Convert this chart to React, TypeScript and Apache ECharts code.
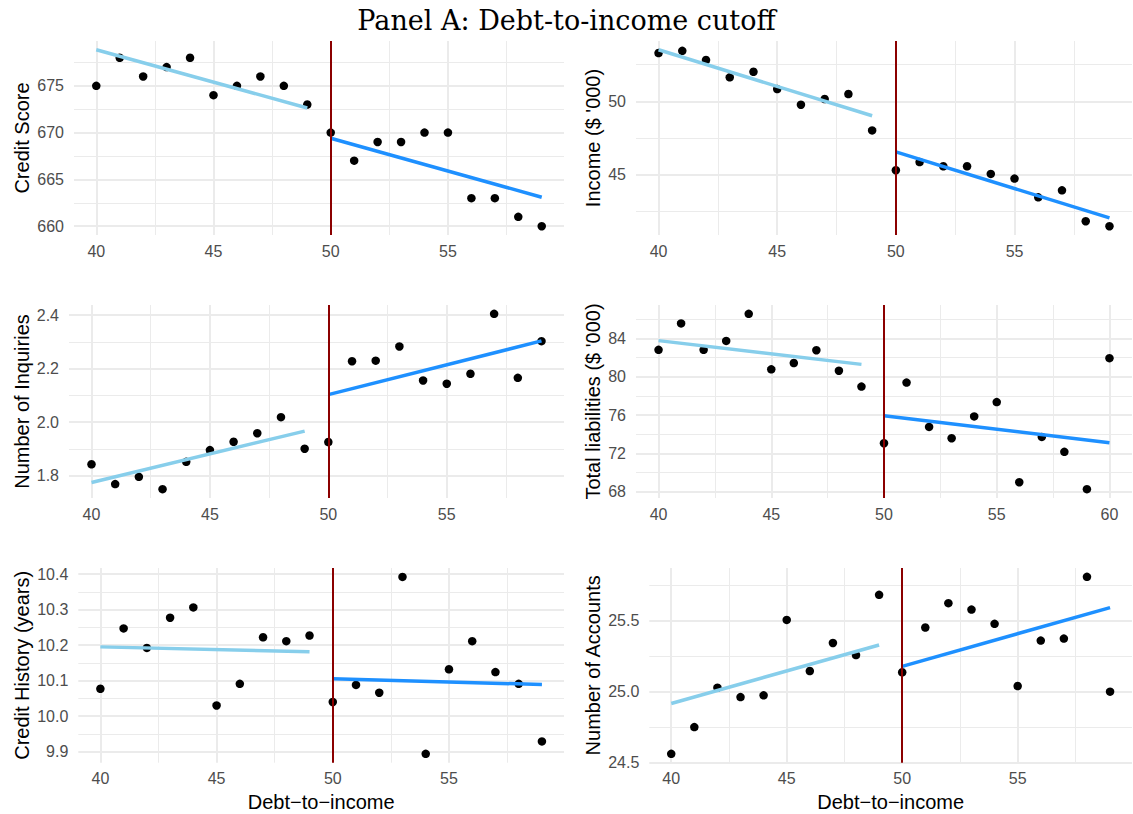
import React, { useEffect, useRef } from "react";
import * as echarts from "echarts";

// ---------- data ----------
const dti = [40, 41, 42, 43, 44, 45, 46, 47, 48, 49, 50, 51, 52, 53, 54, 55, 56, 57, 58, 59];
const dtiWide = [40, 41, 42, 43, 44, 45, 46, 47, 48, 49, 50, 51, 52, 53, 54, 55, 56, 57, 58, 59, 60];

const creditScore = [675, 678, 676, 677, 678, 674, 675, 676, 675, 673, 670, 667, 669, 669, 670, 670, 663, 663, 661, 660];
const income = [53.3, 53.45, 52.82, 51.64, 52.02, 50.84, 49.77, 50.16, 50.5, 48.02, 45.3, 45.86, 45.57, 45.57, 45.05, 44.73, 43.45, 43.93, 41.82, 41.48];
const inquiries = [1.843, 1.769, 1.796, 1.75, 1.852, 1.896, 1.927, 1.959, 2.019, 1.901, 1.926, 2.228, 2.23, 2.283, 2.156, 2.144, 2.181, 2.405, 2.166, 2.303];
const liabilities = [82.81, 85.57, 82.81, 83.74, 86.57, 80.77, 81.43, 82.77, 80.63, 78.97, 73.06, 79.39, 74.76, 73.58, 75.86, 77.35, 68.99, 73.72, 72.16, 68.26, 81.94];
const creditHistory = [10.077, 10.247, 10.192, 10.277, 10.306, 10.03, 10.091, 10.222, 10.211, 10.227, 10.04, 10.088, 10.066, 10.392, 9.894, 10.132, 10.211, 10.124, 10.091, 9.929];
const accounts = [24.561, 24.75, 25.028, 24.962, 24.974, 25.507, 25.146, 25.344, 25.259, 25.684, 25.137, 25.453, 25.625, 25.58, 25.479, 25.04, 25.361, 25.375, 25.811, 25.0];

// fitted lines (endpoints below / above the cutoff)
const creditScoreFitBelow = [[40, 678.85], [49, 672.63]];
const creditScoreFitAbove = [[50, 669.4], [59, 663.1]];
const incomeFitBelow = [[40, 53.52], [49, 49.02]];
const incomeFitAbove = [[50, 46.55], [59, 42.05]];
const inquiriesFitBelow = [[40, 1.775], [49, 1.967]];
const inquiriesFitAbove = [[50, 2.103], [59, 2.304]];
const liabilitiesFitBelow = [[40, 83.77], [49, 81.29]];
const liabilitiesFitAbove = [[50, 75.93], [60, 73.1]];
const creditHistoryFitBelow = [[40, 10.195], [49, 10.181]];
const creditHistoryFitAbove = [[50, 10.105], [59, 10.089]];
const accountsFitBelow = [[40, 24.917], [49, 25.33]];
const accountsFitAbove = [[50, 25.179], [59, 25.594]];

const cutoff = 50;

// tick values
const xTicks = [40, 45, 50, 55];
const xTicksWide = [40, 45, 50, 55, 60];
const xMinor = [42.5, 47.5, 52.5, 57.5];
const creditScoreTicks = [660, 665, 670, 675];
const creditScoreMinor = [662.5, 667.5, 672.5, 677.5];
const incomeTicks = [45, 50];
const incomeMinor = [42.5, 47.5, 52.5];
const inquiriesTicks = [1.8, 2.0, 2.2, 2.4];
const inquiriesMinor = [1.9, 2.1, 2.3];
const liabilitiesTicks = [68, 72, 76, 80, 84];
const liabilitiesMinor = [70, 74, 78, 82, 86];
const creditHistoryTicks = [9.9, 10.0, 10.1, 10.2, 10.3, 10.4];
const creditHistoryMinor = [9.95, 10.05, 10.15, 10.25, 10.35];
const accountsTicks = [24.5, 25.0, 25.5];
const accountsMinor = [24.75, 25.25, 25.75];

const titleText = "Panel A: Debt-to-income cutoff";
const xTitle = "Debt\u2212to\u2212income";

// ---------- layout / style ----------
const SANS = "'Liberation Sans', Arial, Helvetica, sans-serif";
const GRID_COLOR = "#EBEBEB";

type Panel = {
  name: string;
  x: number[];
  y: number[];
  below: number[][];
  above: number[][];
  xRange: [number, number];
  yRange: [number, number];
  xT: number[];
  xM: number[];
  yT: number[];
  yM: number[];
  dec: number;
  box: { left: number; right: number; top: number; bottom: number };
  nameGap: number;
  bottomRow: boolean;
};

const panels: Panel[] = [
  {
    name: "Credit Score", x: dti, y: creditScore, below: creditScoreFitBelow, above: creditScoreFitAbove,
    xRange: [39.05, 59.95], yRange: [659.06, 679.79], xT: xTicks, xM: xMinor, yT: creditScoreTicks, yM: creditScoreMinor, dec: 0,
    box: { left: 74, right: 564, top: 41, bottom: 235 }, nameGap: 42.5, bottomRow: false,
  },
  {
    name: "Income ($ '000)", x: dti, y: income, below: incomeFitBelow, above: incomeFitAbove,
    xRange: [39.05, 59.95], yRange: [40.88, 54.12], xT: xTicks, xM: xMinor, yT: incomeTicks, yM: incomeMinor, dec: 0,
    box: { left: 636, right: 1132, top: 41, bottom: 235 }, nameGap: 33.5, bottomRow: false,
  },
  {
    name: "Number of Inquiries", x: dti, y: inquiries, below: inquiriesFitBelow, above: inquiriesFitAbove,
    xRange: [39.05, 59.95], yRange: [1.717, 2.438], xT: xTicks, xM: xMinor, yT: inquiriesTicks, yM: inquiriesMinor, dec: 1,
    box: { left: 69, right: 564, top: 305, bottom: 498 }, nameGap: 37.5, bottomRow: false,
  },
  {
    name: "Total liabilities ($ '000)", x: dtiWide, y: liabilities, below: liabilitiesFitBelow, above: liabilitiesFitAbove,
    xRange: [39, 61], yRange: [67.34, 87.49], xT: xTicksWide, xM: xMinor, yT: liabilitiesTicks, yM: liabilitiesMinor, dec: 0,
    box: { left: 636, right: 1132, top: 305, bottom: 498 }, nameGap: 33.5, bottomRow: false,
  },
  {
    name: "Credit History (years)", x: dti, y: creditHistory, below: creditHistoryFitBelow, above: creditHistoryFitAbove,
    xRange: [39.05, 59.95], yRange: [9.869, 10.417], xT: xTicks, xM: xMinor, yT: creditHistoryTicks, yM: creditHistoryMinor, dec: 1,
    box: { left: 78.3, right: 564, top: 568, bottom: 762.7 }, nameGap: 46.8, bottomRow: true,
  },
  {
    name: "Number of Accounts", x: dti, y: accounts, below: accountsFitBelow, above: accountsFitAbove,
    xRange: [39.05, 59.95], yRange: [24.4985, 25.8735], xT: xTicks, xM: xMinor, yT: accountsTicks, yM: accountsMinor, dec: 1,
    box: { left: 649.3, right: 1132, top: 568, bottom: 762.7 }, nameGap: 46.8, bottomRow: true,
  },
];

function buildOption() {
  const grid: any[] = [];
  const xAxis: any[] = [];
  const yAxis: any[] = [];
  const series: any[] = [];

  panels.forEach((p, i) => {
    grid.push({
      left: p.box.left,
      top: p.box.top,
      width: p.box.right - p.box.left,
      height: p.box.bottom - p.box.top,
      containLabel: false,
    });
    xAxis.push({
      type: "value",
      gridIndex: i,
      min: p.xRange[0],
      max: p.xRange[1],
      axisLine: { show: false },
      axisTick: { show: false },
      splitLine: { show: false },
      minorSplitLine: { show: false },
      axisLabel: {
        customValues: p.xT,
        formatter: (v: number) => String(Math.round(v)),
        color: "#4D4D4D",
        fontSize: 16,
        fontFamily: SANS,
        margin: 8,
      },
      name: p.bottomRow ? xTitle : "",
      nameLocation: "middle",
      nameGap: 29,
      nameTextStyle: { fontSize: 20, color: "#000", fontFamily: SANS },
    });
    yAxis.push({
      type: "value",
      gridIndex: i,
      min: p.yRange[0],
      max: p.yRange[1],
      axisLine: { show: false },
      axisTick: { show: false },
      splitLine: { show: false },
      axisLabel: {
        customValues: p.yT,
        formatter: (v: number) => v.toFixed(p.dec),
        color: "#4D4D4D",
        fontSize: 16,
        fontFamily: SANS,
        margin: 10,
      },
      name: p.name,
      nameLocation: "middle",
      nameRotate: 90,
      nameGap: p.nameGap,
      nameTextStyle: { fontSize: 20, color: "#000", fontFamily: SANS },
    });

    const gridLines: any[] = [];
    p.xM.forEach((v) => gridLines.push({ xAxis: v, lineStyle: { color: GRID_COLOR, width: 1, type: "solid" } }));
    p.yM.forEach((v) => gridLines.push({ yAxis: v, lineStyle: { color: GRID_COLOR, width: 1, type: "solid" } }));
    p.xT.forEach((v) => gridLines.push({ xAxis: v, lineStyle: { color: GRID_COLOR, width: 2, type: "solid" } }));
    p.yT.forEach((v) => gridLines.push({ yAxis: v, lineStyle: { color: GRID_COLOR, width: 2, type: "solid" } }));

    series.push({
      type: "line",
      xAxisIndex: i,
      yAxisIndex: i,
      data: [],
      z: 1,
      silent: true,
      markLine: {
        z: 1,
        zlevel: 0,
        silent: true,
        symbol: ["none", "none"],
        label: { show: false },
        emphasis: { disabled: true },
        animation: false,
        data: gridLines,
      },
    });
    series.push({
      type: "scatter",
      xAxisIndex: i,
      yAxisIndex: i,
      z: 3,
      symbol: "circle",
      symbolSize: 8.5,
      itemStyle: { color: "#000", opacity: 1 },
      data: p.x.map((xv, j) => [xv, p.y[j]]),
      silent: true,
    });
    series.push({
      type: "line",
      xAxisIndex: i,
      yAxisIndex: i,
      z: 4,
      showSymbol: false,
      symbol: "none",
      lineStyle: { color: "#87CEEB", width: 3.5 },
      data: p.below,
      silent: true,
    });
    series.push({
      type: "line",
      xAxisIndex: i,
      yAxisIndex: i,
      z: 4,
      showSymbol: false,
      symbol: "none",
      lineStyle: { color: "#1E90FF", width: 3.5 },
      data: p.above,
      silent: true,
    });
    series.push({
      type: "line",
      xAxisIndex: i,
      yAxisIndex: i,
      data: [],
      z: 6,
      silent: true,
      markLine: {
        z: 6,
        silent: true,
        symbol: ["none", "none"],
        label: { show: false },
        emphasis: { disabled: true },
        animation: false,
        data: [{ xAxis: cutoff, lineStyle: { color: "#8B0000", width: 2, type: "solid" } }],
      },
    });
  });

  return {
    animation: false,
    backgroundColor: "#ffffff",
    grid,
    xAxis,
    yAxis,
    series,
    graphic: [
      {
        type: "text",
        x: 566.5,
        y: 20,
        style: {
          text: titleText,
          fontFamily: "'DejaVu Serif', serif",
          fontSize: 27,
          fill: "#000",
          textAlign: "center",
          textVerticalAlign: "middle",
        },
      },
    ],
  };
}

export default function App() {
  const ref = useRef<HTMLDivElement>(null);
  useEffect(() => {
    if (!ref.current) return;
    const chart = echarts.init(ref.current, null, { renderer: "svg" });
    chart.setOption(buildOption() as any);
    return () => chart.dispose();
  }, []);
  return (
    <div
      ref={ref}
      style={{ position: "fixed", left: 0, top: 0, width: 1133, height: 814, background: "#fff" }}
    />
  );
}
